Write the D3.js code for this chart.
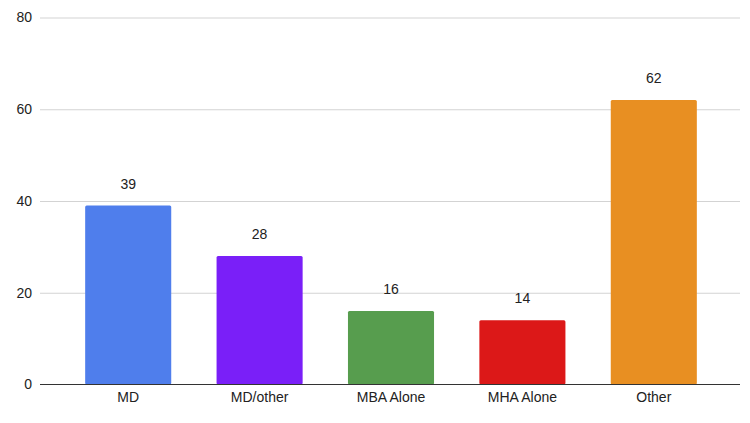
<!DOCTYPE html>
<html>
<head>
<meta charset="utf-8">
<script src="https://cdn.jsdelivr.net/npm/d3@7"></script>
<style>
  body { margin: 0; background: #fff; }
  svg text { font-family: "Liberation Sans", Arial, sans-serif; fill: #222; }
</style>
</head>
<body>
<div class="chart"></div>
<script>
"use strict";

const categories = ["MD", "MD/other", "MBA Alone", "MHA Alone", "Other"];
const values = [39, 28, 16, 14, 62];
const barColors = ["#4f7eec", "#7a1ff8", "#579d4e", "#dc1818", "#e88f22"];
const yTicks = [0, 20, 40, 60, 80];

const width = 750;
const height = 423;

const svg = d3.select(".chart")
  .append("svg")
    .attr("width", width)
    .attr("height", height);

const xScale = d3.scaleBand()
  .domain(categories)
  .range([62.5, 719.5])
  .paddingInner(0.345)
  .paddingOuter(0.1725);

const yScale = d3.scaleLinear()
  .domain([0, 80])
  .range([384.5, 17.5]);

// gridlines + y labels
const yAxis = d3.axisLeft(yScale)
  .tickValues(yTicks)
  .tickSize(0)
  .tickPadding(8);

const yG = svg.append("g")
  .attr("transform", "translate(40, 0)")
  .call(yAxis);
yG.select(".domain").remove();
yG.selectAll(".tick text")
  .attr("font-size", 14)
  .attr("fill", "#222");
yG.selectAll(".tick")
  .filter(d => d !== 0)
  .append("line")
    .attr("x1", 0)
    .attr("x2", 700)
    .attr("stroke", "#d3d3d3")
    .attr("stroke-width", 1);

// bars
svg.selectAll("rect.bar")
  .data(values)
  .join("rect")
    .attr("class", "bar")
    .attr("x", (d, i) => xScale(categories[i]))
    .attr("y", d => yScale(d))
    .attr("width", xScale.bandwidth())
    .attr("height", d => yScale(0) - yScale(d))
    .attr("rx", 1.5)
    .attr("fill", (d, i) => barColors[i]);

// value labels
svg.selectAll("text.value")
  .data(values)
  .join("text")
    .attr("class", "value")
    .attr("x", (d, i) => xScale(categories[i]) + xScale.bandwidth() / 2)
    .attr("y", d => yScale(d) - 17)
    .attr("text-anchor", "middle")
    .attr("font-size", 14)
    .text(d => d);

// baseline
svg.append("line")
  .attr("x1", 40)
  .attr("x2", 740)
  .attr("y1", yScale(0))
  .attr("y2", yScale(0))
  .attr("stroke", "#333")
  .attr("stroke-width", 1.2);

// x axis labels
const xAxis = d3.axisBottom(xScale).tickSize(0).tickPadding(8);
const xG = svg.append("g")
  .attr("transform", `translate(0, ${yScale(0)})`)
  .call(xAxis);
xG.select(".domain").remove();
xG.selectAll(".tick text")
  .attr("font-size", 14)
  .attr("fill", "#222");
</script>
</body>
</html>
